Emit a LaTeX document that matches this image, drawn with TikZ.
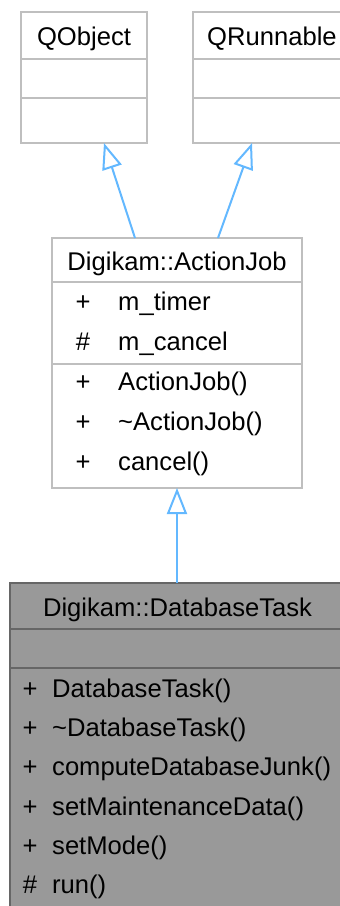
\documentclass[tikz,border=0pt]{standalone}
\usepackage{fontspec}
\setmainfont{Liberation Sans}
\usetikzlibrary{positioning, arrows.meta}
\definecolor{edgeblue}{HTML}{63B8FF}
\definecolor{boxgray}{HTML}{BFBFBF}
\definecolor{taskfill}{HTML}{999999}
\definecolor{taskline}{HTML}{666666}

\begin{document}
\begin{tikzpicture}[
  x=1pt, y=-1pt,
  node distance=0pt,
  part/.style={rectangle, draw=boxgray, line width=2pt, fill=white, outer sep=0pt,
    inner sep=0pt, font=\fontsize{25.6pt}{30pt}\selectfont, text height=20pt, text depth=0pt},
  taskpart/.style={part, draw=taskline, fill=taskfill},
  member/.style={inner sep=0pt, font=\fontsize{25.6pt}{30pt}\selectfont},
  extends/.style={-{Triangle[length=26pt, width=20pt, fill=white]}, line width=2pt, draw=edgeblue}
]
  \useasboundingbox (0,0) rectangle (340,906);
  \clip (0,0) rectangle (340,906);

  % base classes
  \node[part, minimum width=126pt, minimum height=47pt] (qobjhead) at (84,35.5) {QObject};
  \node[part, minimum width=126pt, minimum height=39pt, below=of qobjhead] (qobjattr) {};
  \node[part, minimum width=126pt, minimum height=45pt, below=of qobjattr] (qobjops) {};

  \node[part, minimum width=158pt, minimum height=47pt] (qrunhead) at (272,35.5) {QRunnable};
  \node[part, minimum width=158pt, minimum height=39pt, below=of qrunhead] (qrunattr) {};
  \node[part, minimum width=158pt, minimum height=45pt, below=of qrunattr] (qrunops) {};

  % Digikam::ActionJob
  \node[part, minimum width=250pt, minimum height=44pt] (ajhead) at (177,260) {Digikam::ActionJob};
  \node[part, minimum width=250pt, minimum height=82pt, below=of ajhead] (ajattr) {};
  \node[part, minimum width=250pt, minimum height=124pt, below=of ajattr] (ajops) {};

  \foreach \vis/\name [count=\i] in {+/m\_timer, \#/m\_cancel, +/ActionJob(),
      +/\textasciitilde ActionJob(), +/cancel()}
  {
    \node[member, anchor=base] (ajvis\i) at (83, {270+40*\i}) {\vis};
    \node[member, anchor=base west] (ajname\i) at (118, {270+40*\i}) {\name};
  }

  % Digikam::DatabaseTask
  \node[taskpart, minimum width=335pt, minimum height=46pt] (taskhead) at (177.5,606) {Digikam::DatabaseTask};
  \node[taskpart, minimum width=335pt, minimum height=39pt, below=of taskhead] (taskattr) {};
  \node[taskpart, minimum width=335pt, minimum height=242pt, below=of taskattr] (taskops) {};

  \foreach \vis/\name [count=\i] in {+/DatabaseTask(), +/\textasciitilde DatabaseTask(),
      +/computeDatabaseJunk(), +/setMaintenanceData(), +/setMode(), \#/run()}
  {
    \node[member, anchor=base] (taskvis\i) at (30, {658.6+39.1*\i}) {\vis};
    \node[member, anchor=base west] (taskname\i) at (52, {658.6+39.1*\i}) {\name};
  }

  \draw[extends] ([xshift=-42pt]ajhead.north) -- ([xshift=20pt]qobjops.south);
  \draw[extends] ([xshift=41pt]ajhead.north) -- ([xshift=-20pt]qrunops.south);
  \draw[extends] (taskhead.north -| ajops.south) -- (ajops.south);
\end{tikzpicture}
\end{document}
